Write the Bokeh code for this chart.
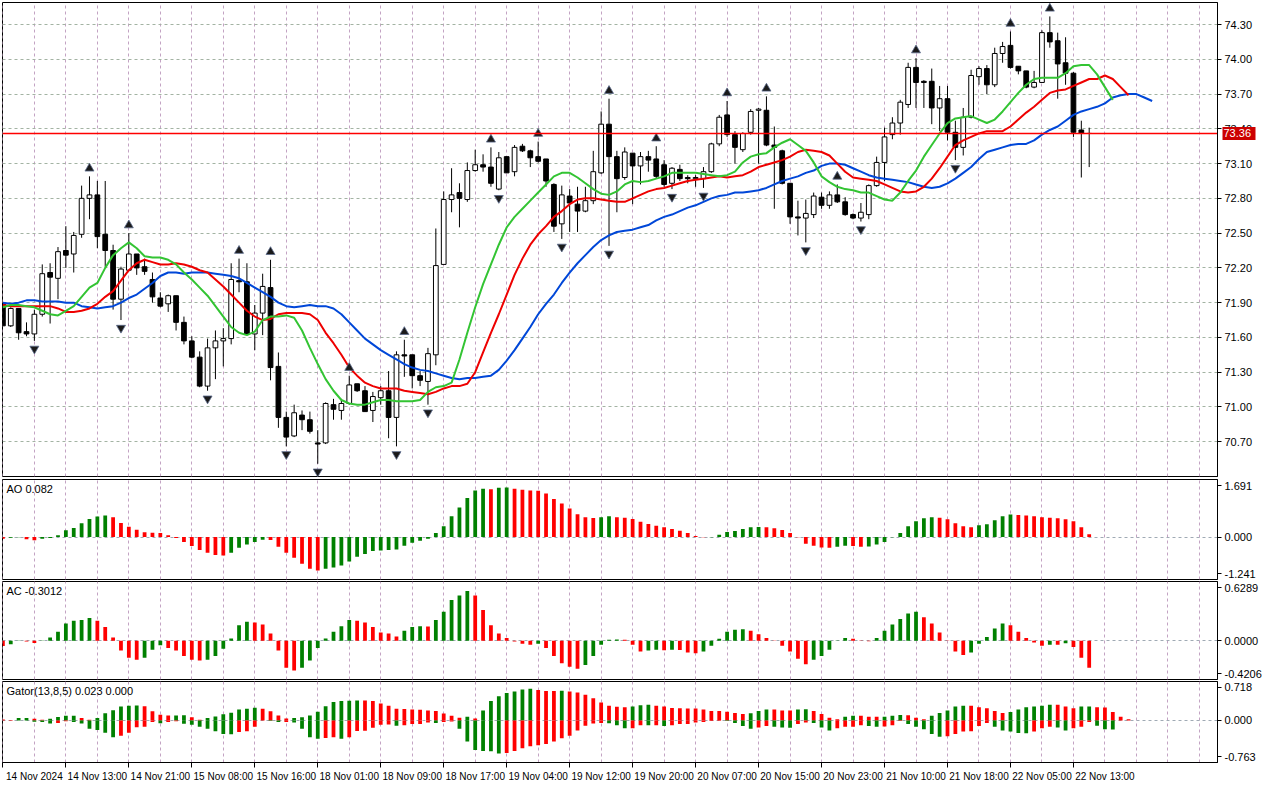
import numpy as np
from bokeh.plotting import figure
from bokeh.models import Range1d, FixedTicker, PrintfTickFormatter, Label, LinearAxis
from bokeh.layouts import column
from bokeh.embed import file_html
from bokeh.resources import INLINE

# ---------------- data ----------------
open_ = [71.89,71.70,71.85,71.65,71.63,71.80,72.16,72.11,72.35,72.32,
72.49,72.80,72.83,72.49,72.35,71.93,72.18,72.32,72.21,72.10,
71.94,71.89,71.96,71.73,71.57,71.43,71.18,71.51,71.57,71.59,
72.09,72.08,71.63,71.81,72.03,71.35,70.91,70.75,70.93,70.89,
70.69,70.69,71.02,70.97,71.03,71.20,71.14,70.97,71.08,71.14,
70.91,71.45,71.45,71.27,71.22,71.45,72.23,72.79,72.85,72.79,
73.04,73.09,73.07,72.88,73.16,73.03,73.25,73.21,73.16,73.14,
72.92,72.58,72.82,72.75,72.69,72.78,73.02,73.44,73.16,72.98,
73.19,73.08,73.16,73.14,73.09,72.93,73.05,72.98,72.97,72.97,
73.03,73.27,73.52,73.35,73.22,73.37,73.56,73.56,73.26,73.21,
72.93,72.64,72.63,72.66,72.81,72.74,72.83,72.77,72.66,72.63,
72.66,72.91,73.11,73.35,73.45,73.61,73.93,73.81,73.81,73.58,
73.66,73.37,73.24,73.50,73.85,73.92,73.78,74.05,74.12,73.94,
73.90,73.76,73.80,74.23,74.16,73.97,73.88,73.39,73.36]
high = [71.90,71.86,71.85,71.73,71.84,72.23,72.24,72.38,72.56,72.51,
72.91,72.99,72.95,72.95,72.40,72.21,72.50,72.32,72.28,72.16,
71.99,71.97,71.96,71.78,71.61,71.48,71.59,71.66,71.68,72.24,
72.28,72.24,71.88,72.15,72.27,71.47,70.96,71.02,70.97,70.96,
70.80,71.04,71.07,71.07,71.27,71.20,71.18,71.13,71.18,71.31,
71.48,71.58,71.45,71.31,71.51,72.54,72.86,73.06,72.93,73.11,
73.22,73.18,73.24,73.20,73.16,73.26,73.27,73.22,73.29,73.14,
72.93,72.91,72.88,72.90,72.90,73.21,73.55,73.66,73.21,73.24,
73.19,73.20,73.21,73.25,73.13,73.07,73.09,73.00,73.00,73.07,
73.28,73.52,73.64,73.38,73.37,73.57,73.58,73.68,73.42,73.22,
72.93,72.78,72.79,72.85,72.85,72.86,72.92,72.81,72.67,72.76,
72.92,73.16,73.41,73.50,73.65,73.97,74.01,73.82,73.92,73.77,
73.77,73.47,73.58,73.91,73.94,73.95,74.10,74.15,74.24,73.94,
73.90,73.90,74.25,74.37,74.23,74.19,73.89,73.47,73.41]
low = [71.70,71.69,71.58,71.61,71.57,71.78,71.72,71.93,72.20,72.16,
72.46,72.62,72.37,72.21,71.84,71.75,72.17,72.14,72.14,71.90,
71.86,71.82,71.66,71.54,71.42,71.17,71.14,71.24,71.35,71.54,
71.99,71.63,71.49,71.62,71.23,70.82,70.66,70.74,70.80,70.77,
70.51,70.68,70.89,70.89,71.02,71.13,70.96,70.87,71.02,70.73,
70.66,71.26,71.16,71.18,71.02,71.36,72.23,72.68,72.55,72.77,
73.03,73.03,72.90,72.87,73.02,72.99,73.20,73.07,73.11,72.90,
72.51,72.45,72.51,72.51,72.68,72.75,73.01,72.39,72.68,72.96,
72.75,72.92,73.03,72.97,72.90,72.88,72.95,72.93,72.90,72.89,
73.02,73.25,73.33,73.10,73.20,73.35,73.10,73.25,72.71,72.92,
72.58,72.48,72.42,72.63,72.71,72.71,72.76,72.65,72.62,72.60,
72.62,72.90,72.95,73.31,73.35,73.58,73.58,73.58,73.44,73.38,
73.30,73.13,73.17,73.49,73.78,73.70,73.76,73.97,73.92,73.87,
73.75,73.75,73.80,74.10,73.66,73.78,73.33,72.98,73.07]
close = [71.70,71.85,71.64,71.63,71.80,72.15,72.12,72.34,72.31,72.48,
72.80,72.83,72.47,72.35,71.93,72.19,72.32,72.20,72.17,71.95,
71.87,71.96,71.73,71.57,71.43,71.18,71.51,71.57,71.59,72.10,
72.08,71.63,71.81,72.04,71.34,70.91,70.74,70.95,70.89,70.79,
70.68,71.03,70.98,71.03,71.19,71.14,70.96,71.09,71.14,70.91,
71.45,71.44,71.27,71.23,71.46,72.22,72.79,72.83,72.80,73.04,
73.09,73.07,72.93,73.15,73.02,73.24,73.21,73.15,73.12,72.95,
72.56,72.83,72.76,72.69,72.78,73.03,73.44,73.16,72.97,73.20,
73.08,73.16,73.13,72.99,72.92,73.06,72.97,72.97,72.98,73.03,
73.27,73.50,73.35,73.24,73.36,73.55,73.57,73.26,73.24,72.93,
72.64,72.63,72.67,72.82,72.74,72.83,72.77,72.66,72.63,72.68,
72.91,73.11,73.33,73.45,73.63,73.93,73.80,73.80,73.58,73.66,
73.37,73.24,73.50,73.86,73.92,73.78,74.05,74.11,73.93,73.90,
73.76,73.80,74.23,74.15,73.96,73.88,73.37,73.36,73.36]

# Alligator lines (as displayed, i.e. with their forward shift)
jaw = [71.90,71.89,71.90,71.92,71.92,71.91,71.91,71.91,71.90,71.90,
71.87,71.86,71.85,71.86,71.87,71.90,71.94,71.97,72.02,72.07,
72.13,72.16,72.16,72.15,72.16,72.16,72.16,72.15,72.14,72.13,
72.11,72.07,72.03,71.99,71.95,71.90,71.87,71.86,71.87,71.88,
71.87,71.87,71.85,71.80,71.73,71.66,71.59,71.54,71.49,71.45,
71.41,71.37,71.34,71.32,71.31,71.29,71.27,71.25,71.24,71.25,
71.25,71.26,71.27,71.32,71.40,71.49,71.59,71.69,71.80,71.89,
71.97,72.07,72.16,72.24,72.31,72.38,72.44,72.48,72.51,72.52,
72.53,72.55,72.57,72.61,72.64,72.66,72.69,72.72,72.74,72.77,
72.80,72.82,72.83,72.85,72.85,72.86,72.87,72.89,72.92,72.95,
72.97,72.99,73.02,73.04,73.08,73.10,73.10,73.09,73.06,73.03,
73.00,72.98,72.97,72.96,72.95,72.94,72.92,72.90,72.89,72.90,
72.93,72.97,73.02,73.07,73.14,73.20,73.22,73.24,73.26,73.27,
73.27,73.30,73.35,73.39,73.42,73.47,73.52,73.55,73.57,73.59,
73.62,73.67,73.69,73.70,73.70,73.67,73.64]
teeth = [71.88,71.87,71.87,71.87,71.87,71.87,71.87,71.85,71.82,71.82,
71.83,71.85,71.89,71.95,72.00,72.09,72.18,72.24,72.27,72.25,
72.23,72.23,72.24,72.23,72.21,72.18,72.16,72.10,72.04,71.97,
71.90,71.83,71.78,71.75,71.76,71.80,71.81,71.81,71.81,71.80,
71.75,71.64,71.55,71.45,71.34,71.27,71.21,71.18,71.16,71.16,
71.16,71.14,71.13,71.12,71.11,71.13,71.16,71.18,71.18,71.20,
71.30,71.47,71.64,71.80,71.97,72.14,72.28,72.40,72.49,72.56,
72.64,72.69,72.75,72.79,72.80,72.80,72.79,72.78,72.77,72.77,
72.80,72.83,72.86,72.88,72.89,72.91,72.93,72.95,72.96,72.97,
72.98,72.99,72.98,72.99,73.00,73.03,73.07,73.09,73.11,73.13,
73.16,73.20,73.22,73.21,73.20,73.17,73.10,73.03,72.98,72.97,
72.96,72.95,72.92,72.89,72.86,72.85,72.86,72.90,72.97,73.06,
73.16,73.26,73.30,73.33,73.36,73.38,73.38,73.38,73.42,73.48,
73.54,73.59,73.65,73.71,73.73,73.74,73.77,73.80,73.83,73.83,
73.86,73.83,73.76,73.69]
lips = [71.86,71.88,71.88,71.87,71.86,71.83,71.80,71.79,71.83,71.87,
71.95,72.03,72.07,72.20,72.31,72.37,72.42,72.37,72.30,72.29,
72.29,72.27,72.23,72.16,72.10,72.03,71.96,71.87,71.78,71.69,
71.64,71.62,71.65,71.75,71.78,71.78,71.79,71.77,71.66,71.51,
71.37,71.24,71.14,71.06,71.03,71.02,71.02,71.04,71.06,71.06,
71.05,71.05,71.05,71.06,71.13,71.17,71.18,71.21,71.41,71.64,
71.86,72.06,72.23,72.40,72.55,72.64,72.71,72.78,72.85,72.92,
72.99,73.02,73.02,72.98,72.93,72.88,72.84,72.83,72.86,72.92,
72.95,72.94,72.95,72.97,72.99,73.02,73.02,73.02,73.02,73.01,
73.00,72.99,73.00,73.03,73.11,73.16,73.18,73.19,73.24,73.28,
73.31,73.26,73.21,73.11,72.99,72.94,72.90,72.88,72.87,72.85,
72.85,72.82,72.79,72.78,72.85,72.95,73.04,73.16,73.26,73.36,
73.45,73.49,73.50,73.51,73.48,73.45,73.48,73.55,73.63,73.71,
73.78,73.83,73.84,73.84,73.84,73.88,73.94,73.95,73.95,73.87,
73.76,73.65]

fractal_up = [11, 16, 30, 34, 44, 51, 62, 68, 77, 83, 92, 97, 106, 116, 128, 133]
fractal_down = [4, 15, 26, 36, 40, 50, 54, 63, 71, 77, 85, 89, 102, 109, 121]

ao = [-0.05,-0.02,-0.01,-0.07,-0.10,-0.05,-0.03,0.05,0.20,0.27,
0.41,0.54,0.61,0.64,0.59,0.42,0.31,0.22,0.14,0.13,
0.12,0.05,-0.03,-0.15,-0.27,-0.39,-0.47,-0.54,-0.55,-0.47,
-0.32,-0.22,-0.15,-0.08,-0.09,-0.29,-0.47,-0.62,-0.80,-0.95,
-1.00,-0.95,-0.91,-0.85,-0.73,-0.59,-0.51,-0.42,-0.40,-0.39,
-0.37,-0.26,-0.17,-0.11,-0.05,0.12,0.32,0.62,0.88,1.17,
1.39,1.44,1.43,1.47,1.48,1.44,1.41,1.39,1.38,1.30,
1.14,1.00,0.85,0.68,0.59,0.57,0.59,0.62,0.59,0.58,
0.54,0.46,0.39,0.34,0.29,0.24,0.19,0.12,0.03,-0.01,
-0.005,0.07,0.15,0.18,0.24,0.29,0.30,0.29,0.26,0.21,
0.12,-0.01,-0.20,-0.26,-0.31,-0.32,-0.29,-0.26,-0.27,-0.29,
-0.28,-0.22,-0.15,-0.01,0.12,0.32,0.47,0.56,0.59,0.58,
0.53,0.41,0.32,0.29,0.35,0.38,0.50,0.62,0.67,0.66,
0.64,0.62,0.59,0.58,0.56,0.53,0.47,0.29,0.08]
ac = [-0.06,-0.04,0.003,-0.01,-0.025,-0.004,0.035,0.10,0.19,0.22,
0.23,0.25,0.22,0.15,0.035,-0.11,-0.19,-0.21,-0.19,-0.10,
-0.05,-0.08,-0.11,-0.17,-0.21,-0.22,-0.21,-0.17,-0.09,0.025,
0.17,0.21,0.20,0.18,0.08,-0.11,-0.30,-0.33,-0.30,-0.22,
-0.08,0.025,0.10,0.16,0.23,0.22,0.20,0.15,0.09,0.08,
0.045,0.11,0.15,0.16,0.158,0.23,0.32,0.45,0.50,0.55,
0.50,0.34,0.17,0.08,0.03,-0.01,-0.035,-0.045,-0.035,-0.08,
-0.17,-0.25,-0.29,-0.31,-0.27,-0.17,-0.045,0.01,0.012,0.01,
-0.045,-0.12,-0.11,-0.10,-0.107,-0.10,-0.103,-0.13,-0.14,-0.12,
-0.055,0.02,0.10,0.12,0.125,0.11,0.07,0.03,-0.005,-0.055,
-0.12,-0.20,-0.26,-0.21,-0.17,-0.10,-0.004,0.03,0.02,-0.004,
-0.006,0.03,0.11,0.18,0.24,0.30,0.32,0.26,0.19,0.09,
-0.005,-0.12,-0.16,-0.13,-0.035,0.04,0.135,0.19,0.17,0.10,
0.03,-0.02,-0.055,-0.045,-0.046,-0.03,-0.07,-0.19,-0.30]
gator_up = [0.018,0.006,0.047,0.048,0.03,0.012,0.03,0.065,0.088,0.09,
0.047,0.012,0.047,0.135,0.194,0.265,0.28,0.282,0.27,0.176,
0.106,0.094,0.095,0.10,0.06,0.012,0.047,0.076,0.118,0.147,
0.21,0.224,0.24,0.224,0.176,0.094,0.035,0.047,0.06,0.094,
0.165,0.27,0.35,0.37,0.372,0.38,0.378,0.37,0.32,0.28,
0.22,0.215,0.21,0.205,0.19,0.18,0.13,0.09,0.05,0.07,
0.035,0.19,0.37,0.46,0.52,0.55,0.59,0.60,0.58,0.56,
0.558,0.565,0.55,0.53,0.49,0.42,0.34,0.28,0.26,0.25,
0.265,0.29,0.30,0.28,0.265,0.235,0.23,0.228,0.227,0.21,
0.18,0.178,0.165,0.14,0.12,0.135,0.18,0.21,0.208,0.19,
0.188,0.21,0.212,0.18,0.12,0.05,0.02,0.07,0.09,0.088,
0.07,0.068,0.07,0.09,0.105,0.10,0.05,0.02,0.09,0.14,
0.19,0.265,0.28,0.278,0.25,0.23,0.18,0.14,0.16,0.21,
0.25,0.265,0.28,0.30,0.298,0.265,0.23,0.265,0.266,0.25,
0.248,0.16,0.07,0.023]
gator_down = [0,0,0,0,-0.024,-0.03,-0.06,-0.047,-0.018,-0.03,
-0.06,-0.16,-0.18,-0.235,-0.32,-0.29,-0.235,-0.13,-0.12,-0.03,
-0.053,-0.03,-0.018,-0.065,-0.08,-0.12,-0.16,-0.206,-0.26,-0.265,
-0.218,-0.206,-0.12,-0.003,-0.01,-0.03,-0.028,-0.04,-0.16,-0.32,
-0.35,-0.335,-0.32,-0.35,-0.32,-0.20,-0.195,-0.14,-0.08,-0.078,
-0.10,-0.09,-0.07,-0.068,-0.04,-0.05,-0.03,-0.02,-0.16,-0.40,
-0.56,-0.58,-0.585,-0.63,-0.62,-0.58,-0.53,-0.49,-0.47,-0.45,
-0.40,-0.34,-0.29,-0.19,-0.10,-0.06,-0.05,-0.052,-0.09,-0.15,
-0.148,-0.09,-0.092,-0.09,-0.105,-0.09,-0.07,-0.068,-0.04,-0.03,
-0.01,-0.005,-0.012,-0.05,-0.105,-0.16,-0.135,-0.105,-0.12,-0.135,
-0.137,-0.07,-0.04,-0.05,-0.135,-0.19,-0.15,-0.12,-0.118,-0.09,
-0.105,-0.12,-0.117,-0.09,-0.01,-0.07,-0.12,-0.17,-0.26,-0.31,
-0.30,-0.26,-0.21,-0.208,-0.105,-0.05,-0.12,-0.19,-0.21,-0.24,
-0.242,-0.21,-0.15,-0.12,-0.135,-0.19,-0.15,-0.12,-0.03,-0.10,
-0.17,-0.172]

label_bars = [0, 8, 16, 24, 32, 40, 48, 56, 64, 72, 80, 88, 96, 104, 112, 120, 128, 136]
label_texts = ["14 Nov 2024", "14 Nov 13:00", "14 Nov 21:00", "15 Nov 08:00", "15 Nov 16:00",
               "18 Nov 01:00", "18 Nov 09:00", "18 Nov 17:00", "19 Nov 04:00", "19 Nov 12:00",
               "19 Nov 20:00", "20 Nov 07:00", "20 Nov 15:00", "20 Nov 23:00", "21 Nov 10:00",
               "21 Nov 18:00", "22 Nov 05:00", "22 Nov 13:00"]
price_ticks = [70.70, 71.00, 71.30, 71.60, 71.90, 72.20, 72.50, 72.80, 73.10, 73.40, 73.70, 74.00, 74.30]
ao_scale = ["-1.241", "0.000", "1.691"]
ac_scale = ["-0.4206", "0.0000", "0.6289"]
gator_scale = ["-0.763", "0.000", "0.718"]
current_price = 73.36
ao_title = "AO 0.082"
ac_title = "AC -0.3012"
gator_title = "Gator(13,8,5) 0.023 0.000"

# ---------------- styling ----------------
FONT = "Liberation Sans"
GREEN = "#008000"
RED = "#ff0000"
VGRID = "#c3a3c3"
HGRID = "#a3b3a3"
ZGRID = "#a0aab4"
W = 1264
RB = 44
x_range = Range1d(-0.05, 154.3)


def style_yaxis(ax):
    ax.major_label_text_font = FONT
    ax.major_label_text_font_size = "11px"
    ax.major_label_text_color = "black"
    ax.axis_line_color = "black"
    ax.major_tick_line_color = "black"
    ax.major_tick_out = 4
    ax.major_tick_in = 0
    ax.minor_tick_line_color = None
    ax.major_label_standoff = 3


def make_fig(height, y_range, top, bottom, show_x):
    p = figure(width=W, height=height, x_range=x_range, y_range=y_range,
               output_backend="svg", toolbar_location=None,
               y_axis_location="right", x_axis_location="below" if show_x else None,
               min_border_left=2, min_border_right=RB,
               min_border_top=top, min_border_bottom=bottom)
    p.background_fill_color = "white"
    p.border_fill_color = "white"
    p.outline_line_color = "black"
    p.outline_line_alpha = 1.0
    p.outline_line_width = 1
    style_yaxis(p.yaxis[0])
    p.xgrid.ticker = FixedTicker(ticks=list(range(0, 156, 4)))
    p.xgrid.grid_line_color = VGRID
    p.xgrid.grid_line_dash = "3 3"
    p.xgrid.grid_line_width = 1
    p.ygrid.grid_line_dash = "3 3"
    p.ygrid.grid_line_width = 1
    return p


def sub_scale(p, frame_h, texts):
    # MT4 draws the extreme scale labels just inside the pane
    yr = p.y_range
    upp = (yr.end - yr.start) / frame_h
    pos = [yr.start + 6 * upp, 0.0, yr.end - 6 * upp]
    ax = p.yaxis[0]
    ax.ticker = FixedTicker(ticks=pos)
    ax.major_label_overrides = {v: t for v, t in zip(pos, texts)}
    p.ygrid.ticker = FixedTicker(ticks=[0.0])
    p.ygrid.grid_line_color = ZGRID


def trend_colors(vals, first, use_abs=False):
    v = [abs(a) for a in vals] if use_abs else list(vals)
    cols = [first]
    for i in range(1, len(v)):
        cols.append(GREEN if v[i] > v[i - 1] else RED)
    return cols


def add_title(p, text):
    p.add_layout(Label(x=p.x_range.start, y=p.y_range.end, x_offset=4, y_offset=-3,
                       text=text, text_baseline="top", text_align="left",
                       text_font=FONT, text_font_size="11px", text_color="black"))

# ---------------- main price panel ----------------
main = make_fig(478, Range1d(70.40, 74.49), 2, 2, False)
main.yaxis[0].ticker = FixedTicker(ticks=price_ticks)
main.yaxis[0].formatter = PrintfTickFormatter(format="%.2f")
main.ygrid.ticker = FixedTicker(ticks=price_ticks)
main.ygrid.grid_line_color = HGRID

o = np.array(open_); h = np.array(high); l = np.array(low); c = np.array(close)
idx = np.arange(len(o))
bull = c >= o
top_b = np.maximum(o, c); bot_b = np.minimum(o, c)
main.segment(idx, h, idx, l, line_color="black", line_width=1)
main.vbar(idx[bull], 0.6, top_b[bull], bot_b[bull], fill_color="white", line_color="black", line_width=1)
main.vbar(idx[~bull], 0.6, top_b[~bull], bot_b[~bull], fill_color="black", line_color="black", line_width=1)

main.line(np.arange(len(jaw)), jaw, line_color="#0047d8", line_width=2)
main.line(np.arange(len(teeth)), teeth, line_color="#ee0000", line_width=2)
main.line(np.arange(len(lips)), lips, line_color="#33c433", line_width=2)

fu = np.array(fractal_up); fd = np.array(fractal_down)
main.scatter(fu, h[fu] + 0.068, marker="triangle", size=9, fill_color="#1a1a1a", line_color="#5a6a8a", line_width=0.8)
main.scatter(fd, l[fd] - 0.068, marker="inverted_triangle", size=9, fill_color="#1a1a1a", line_color="#5a6a8a", line_width=0.8)

# current price line across the pane
main.segment(x0=[x_range.start], x1=[x_range.end], y0=[current_price], y1=[current_price],
             line_color="#ff0000", line_width=1.6)

# current price tag: an outer right axis whose single thick tick points back inwards
tag = LinearAxis(ticker=FixedTicker(ticks=[current_price]),
                 formatter=PrintfTickFormatter(format="%.2f"))
tag.axis_line_color = None
tag.major_tick_line_color = "#cc0000"
tag.major_tick_line_width = 13
tag.major_tick_line_cap = "butt"
tag.major_tick_out = 0
tag.major_tick_in = 33
tag.minor_tick_line_color = None
tag.major_label_standoff = -32
tag.major_label_text_color = "white"
tag.major_label_text_font = FONT
tag.major_label_text_font_size = "11px"
main.add_layout(tag, "right")

# ---------------- AO ----------------
pao = make_fig(102, Range1d(-1.27, 1.72), 1, 1, False)
sub_scale(pao, 100, ao_scale)
pao.vbar(x=list(range(len(ao))), width=0.48, top=ao, bottom=0, fill_color=trend_colors(ao, RED), line_color=None)
add_title(pao, ao_title)

# ---------------- AC ----------------
pac = make_fig(100, Range1d(-0.43, 0.655), 1, 1, False)
sub_scale(pac, 98, ac_scale)
pac.vbar(x=list(range(len(ac))), width=0.48, top=ac, bottom=0, fill_color=trend_colors(ac, RED), line_color=None)
add_title(pac, ac_title)

# ---------------- Gator ----------------
pg = make_fig(104, Range1d(-0.80, 0.74), 1, 20, True)
sub_scale(pg, 83, gator_scale)
pg.vbar(x=list(range(len(gator_up))), width=0.48, top=gator_up, bottom=0,
        fill_color=trend_colors(gator_up, RED, True), line_color=None)
pg.vbar(x=list(range(len(gator_down))), width=0.48, top=0, bottom=gator_down,
        fill_color=trend_colors(gator_down, RED, True), line_color=None)
add_title(pg, gator_title)

xa = pg.xaxis[0]
major = [b + 4 for b in label_bars]
xa.ticker = FixedTicker(ticks=major, minor_ticks=label_bars)
xa.major_label_overrides = {m: t for m, t in zip(major, label_texts)}
xa.major_tick_line_color = None
xa.major_tick_out = 0
xa.major_tick_in = 0
xa.minor_tick_line_color = "black"
xa.minor_tick_out = 5
xa.minor_tick_in = 0
xa.axis_line_color = "black"
xa.major_label_standoff = 3
xa.major_label_text_font = FONT
xa.major_label_text_font_size = "10px"
xa.major_label_text_color = "black"

layout = column(main, pao, pac, pg, spacing=0)
open("out.html", "w").write(file_html(layout, INLINE))
